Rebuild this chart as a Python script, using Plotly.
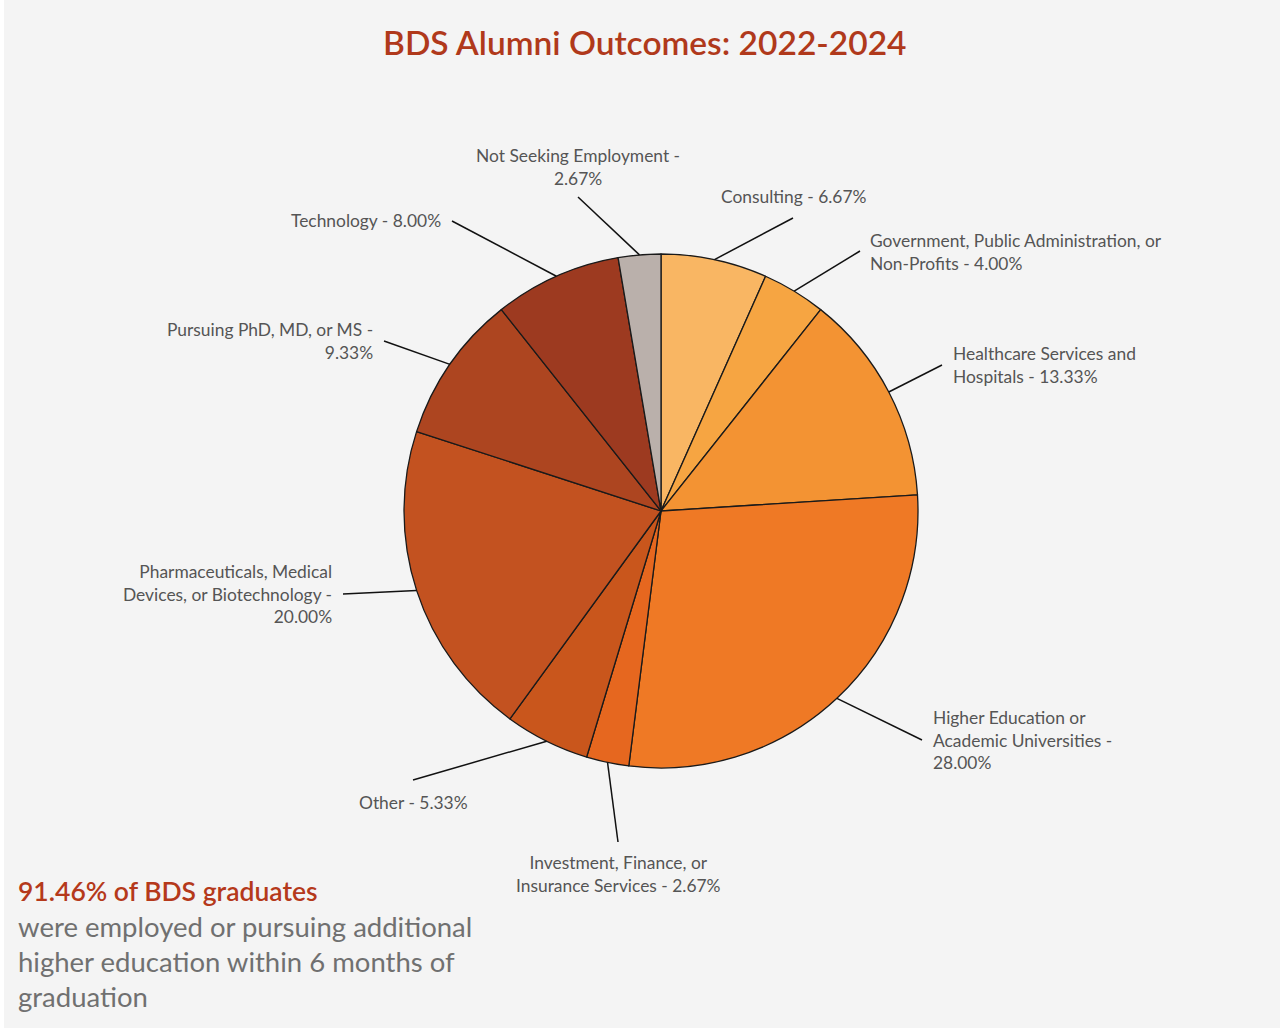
import math
import plotly.graph_objects as go

# ---- data ----
categories = [
    "Consulting",
    "Government, Public Administration, or Non-Profits",
    "Healthcare Services and Hospitals",
    "Higher Education or Academic Universities",
    "Investment, Finance, or Insurance Services",
    "Other",
    "Pharmaceuticals, Medical Devices, or Biotechnology",
    "Pursuing PhD, MD, or MS",
    "Technology",
    "Not Seeking Employment",
]
values = [6.67, 4.00, 13.33, 28.00, 2.67, 5.33, 20.00, 9.33, 8.00, 2.67]
colors = ["#f9b663", "#f6a542", "#f39333", "#ef7925", "#e6671f",
          "#c9561c", "#c35220", "#ad4520", "#9d3a20", "#bab0ab"]
# wrapped label prefixes (line breaks as in the reference)
label_prefix = [
    "Consulting - ",
    "Government, Public Administration, or<br>Non-Profits - ",
    "Healthcare Services and<br>Hospitals - ",
    "Higher Education or<br>Academic Universities -<br>",
    "Investment, Finance, or<br>Insurance Services - ",
    "Other - ",
    "Pharmaceuticals, Medical<br>Devices, or Biotechnology -<br>",
    "Pursuing PhD, MD, or MS -<br>",
    "Technology - ",
    "Not Seeking Employment -<br>",
]
title_text = "BDS Alumni Outcomes: 2022-2024"
note_head = "91.46% of BDS graduates"
note_lines = ["were employed or pursuing additional",
              "higher education within 6 months of",
              "graduation"]

# ---- layout (pixels) ----
W, H = 1280, 1028
CX, CY, R = 661, 511, 257
# label placement: (leader end x, y, text x, text y, xanchor)
placement = [
    (793, 218, 719, 196, "left"),
    (860, 251, 868, 252, "left"),
    (942, 365, 951, 365, "left"),
    (922, 740, 931, 740, "left"),
    (618, 842, 618, 874, "center"),
    (413, 780, 470, 802, "right"),
    (343, 594, 334, 594, "right"),
    (384, 341, 375, 341, "right"),
    (452, 221, 443, 220, "right"),
    (578, 197, 578, 167, "center"),
]

def px(x):
    return x / W

def py(y):
    return 1 - y / H

FONT = "Lato"
fig = go.Figure(go.Pie(
    labels=categories, values=values, sort=False, direction="clockwise",
    rotation=0, textinfo="none", hoverinfo="label+percent",
    marker=dict(colors=colors, line=dict(color="#1a1a1a", width=1.3)),
    domain=dict(x=[px(CX - R), px(CX + R)], y=[py(CY + R), py(CY - R)]),
    showlegend=False,
))

shapes = []
annotations = []
total = sum(values)
cum = 0.0
for v, pre, (lx, ly, tx, ty, anc) in zip(values, label_prefix, placement):
    mid = (cum + v / 2) / total * 2 * math.pi
    cum += v
    sx = CX + R * math.sin(mid)
    sy = CY - R * math.cos(mid)
    shapes.append(dict(type="line", xref="paper", yref="paper",
                       x0=px(sx), y0=py(sy), x1=px(lx), y1=py(ly),
                       line=dict(color="#111111", width=1.5)))
    annotations.append(dict(
        text=f"{pre}{v:.2f}%", x=px(tx), y=py(ty), xref="paper", yref="paper",
        xanchor=anc, yanchor="middle", align=anc, showarrow=False,
        font=dict(family=FONT, size=17.4, color="#555555")))

annotations.append(dict(text=title_text, x=px(645), y=py(42), xref="paper",
                        yref="paper", xanchor="center", yanchor="middle",
                        showarrow=False,
                        font=dict(family=FONT, size=33.5, color="#b0391b",
                                  weight=600)))
annotations.append(dict(text=note_head, x=px(16), y=py(891),
                        xref="paper", yref="paper", xanchor="left",
                        yanchor="middle", showarrow=False,
                        font=dict(family=FONT, size=26.5, color="#b5391b",
                                  weight=600)))
for i, t in enumerate(note_lines):
    annotations.append(dict(text=t, x=px(16), y=py(926 + 35 * i),
                            xref="paper", yref="paper", xanchor="left",
                            yanchor="middle", showarrow=False,
                            font=dict(family=FONT, size=27.5, color="#707070")))

shapes.append(dict(type="rect", xref="paper", yref="paper", x0=0, x1=px(4),
                   y0=0, y1=1, fillcolor="#ffffff", line=dict(width=0),
                   layer="below"))

fig.update_layout(
    width=W, height=H, margin=dict(l=0, r=0, t=0, b=0),
    paper_bgcolor="#f4f4f4", plot_bgcolor="#f4f4f4",
    shapes=shapes, annotations=annotations,
)
fig.write_html("out.html", config={"displayModeBar": False},
               post_script="document.body.style.margin='0';"
                           "document.body.style.overflow='hidden';")
